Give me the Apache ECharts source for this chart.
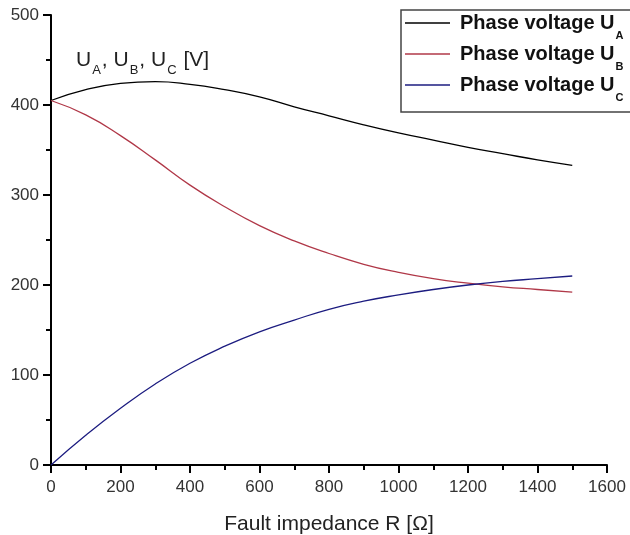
<!DOCTYPE html>
<html>
<head>
<meta charset="utf-8">
<script src="https://cdn.jsdelivr.net/npm/echarts@6/dist/echarts.min.js"></script>
<style>
  html, body { margin: 0; padding: 0; background: #fff; }
  #chart { width: 630px; height: 535px; }
</style>
</head>
<body>
<div id="chart"></div>
<script>
// fault impedance R [ohm]
const resistance = [0, 100, 200, 300, 400, 500, 600, 700, 800, 900, 1000, 1100, 1200, 1300, 1400, 1500]
// phase voltages [V]
const voltageA = [405, 417, 424, 426, 423, 417, 409, 398, 388, 378, 369, 361, 353, 346, 339, 333]
const voltageB = [405, 389, 366, 339, 311, 287, 266, 249, 235, 223, 214, 207, 202, 198, 195, 192]
const voltageC = [0, 33, 63, 90, 113, 132, 148, 161, 173, 182, 189, 195, 200, 204, 207, 210]
const phaseNames = ['A', 'B', 'C']
const phaseColors = ['#000000', '#b03848', '#1c1c80']

const FONT = '"Liberation Sans", Arial, sans-serif'

const chart = echarts.init(document.getElementById('chart'))

const pairs = vals => resistance.map((r, i) => [r, vals[i]])
const seriesVals = [voltageA, voltageB, voltageC]

chart.setOption({
  animation: false,
  title: {
    text: '{m|U}{sub|A}{m|, U}{sub|B}{m|, U}{sub|C}{m| [V]}',
    left: 76,
    top: 49,
    padding: 0,
    textStyle: {
      fontFamily: FONT,
      fontSize: 21,
      fontWeight: 'normal',
      color: '#222',
      rich: {
        m: { fontFamily: FONT, fontSize: 21, lineHeight: 22, color: '#222', verticalAlign: 'middle' },
        // subscripts hang below the baseline without growing the line
        sub: { fontFamily: FONT, fontSize: 13, lineHeight: 1, color: '#222', verticalAlign: 'top', padding: [14.5, 1, 0, 1] },
      },
    },
  },
  // legend frame runs off the right edge like in the original figure
  graphic: [{
    type: 'rect',
    shape: { x: 401, y: 10, width: 260, height: 102 },
    style: { fill: 'none', stroke: '#444', lineWidth: 1.5 },
    silent: true,
  }],
  legend: {
    orient: 'vertical',
    left: 401,
    top: 10,
    padding: [3, 5, 10, 4],
    itemWidth: 45,
    itemHeight: 14,
    itemGap: 3,
    icon: 'path://M0,0 L45,0 L45,1.3 L0,1.3 Z',
    formatter: name => '{m|Phase voltage U}{sub|' + name + '}',
    textStyle: {
      fontFamily: FONT,
      fontSize: 20,
      fontWeight: 'bold',
      color: '#111',
      rich: {
        m: { fontFamily: FONT, fontSize: 20, lineHeight: 20, fontWeight: 'bold', color: '#111', verticalAlign: 'middle', padding: [0, 0, 0, 5] },
        sub: { fontFamily: FONT, fontSize: 11, lineHeight: 1, fontWeight: 'bold', color: '#111', verticalAlign: 'top', padding: [17, 0, 0, 1] },
      },
    },
    data: phaseNames,
  },
  grid: { left: 51, right: 23, top: 15, bottom: 70, outerBoundsMode: 'none' },
  xAxis: {
    type: 'value',
    min: 0,
    max: 1600,
    interval: 200,
    name: 'Fault impedance R [Ω]',
    nameLocation: 'middle',
    nameGap: 49,
    nameTextStyle: { fontFamily: FONT, fontSize: 21, color: '#222' },
    axisLine: { lineStyle: { color: '#000', width: 2 } },
    axisTick: { inside: false, length: 8, lineStyle: { color: '#000', width: 2 } },
    minorTick: { show: true, splitNumber: 2, length: 5, lineStyle: { color: '#000', width: 2 } },
    axisLabel: { fontFamily: FONT, fontSize: 17, color: '#333', margin: 14, formatter: v => String(v) },
    splitLine: { show: false },
  },
  yAxis: {
    type: 'value',
    min: 0,
    max: 500,
    interval: 100,
    axisLine: { show: true, lineStyle: { color: '#000', width: 2 } },
    axisTick: { show: true, inside: false, length: 8, lineStyle: { color: '#000', width: 2 } },
    minorTick: { show: true, splitNumber: 2, length: 5, lineStyle: { color: '#000', width: 2 } },
    axisLabel: { fontFamily: FONT, fontSize: 17, color: '#333', margin: 12, formatter: v => String(v) },
    splitLine: { show: false },
  },
  series: phaseNames.map((n, i) => ({
    name: n,
    type: 'line',
    smooth: true,
    symbol: 'none',
    color: phaseColors[i],
    lineStyle: { color: phaseColors[i], width: 1.3 },
    data: pairs(seriesVals[i]),
  })),
})

window.addEventListener('resize', () => chart.resize())
</script>
</body>
</html>
